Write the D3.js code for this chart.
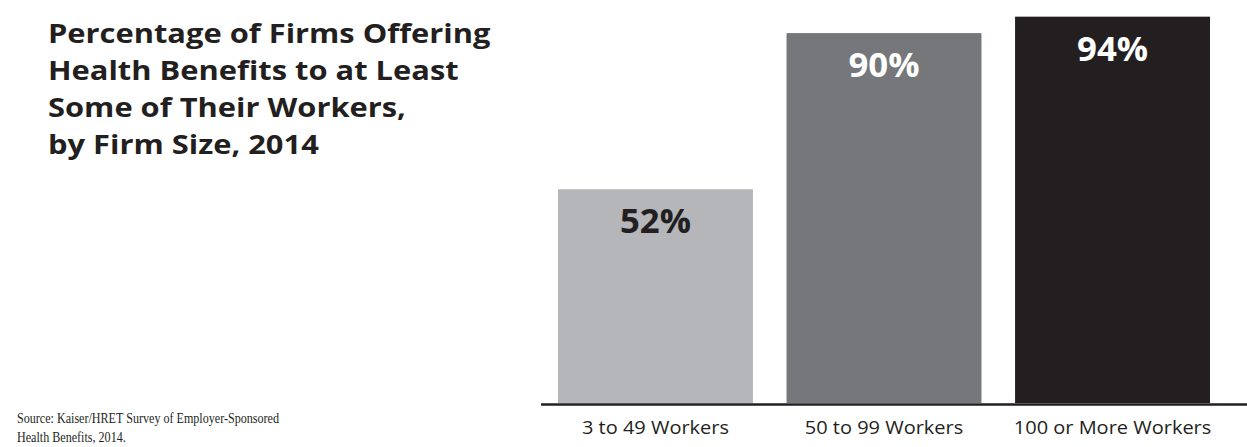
<!DOCTYPE html>
<html>
<head>
<meta charset="utf-8">
<script src="https://cdn.jsdelivr.net/npm/d3@7"></script>
<style>
  html, body { margin: 0; padding: 0; background: #fff; }
  svg { display: block; }
</style>
</head>
<body>
<svg id="chart" width="1247" height="447"></svg>
<script>
const categories = ["3 to 49 Workers", "50 to 99 Workers", "100 or More Workers"];
const values = [52, 90, 94];
const valueLabels = ["52%", "90%", "94%"];
const barColors = ["#b5b6b9", "#76777a", "#231f20"];
const labelColors = ["#231f20", "#ffffff", "#ffffff"];
const titleLines = ["Percentage of Firms Offering", "Health Benefits to at Least", "Some of Their Workers,", "by Firm Size, 2014"];
const sourceLines = ["Source: Kaiser/HRET Survey of Employer-Sponsored", "Health Benefits, 2014."];

const svg = d3.select("#chart");
const sans = "'Open Sans', 'Noto Sans', sans-serif";
const ink = "#231f20";

// apply a horizontal squeeze so the first text's rendered width reaches the target
function fitRendered(sel, target, tf) {
  let s = 1;
  for (let k = 0; k < 3; k++) {
    sel.attr("transform", (d, i) => tf(d, i) + ` scale(${s},1)`);
    const w = sel.nodes()[0].getBoundingClientRect().width;
    s = s * target / w;
  }
  sel.attr("transform", (d, i) => tf(d, i) + ` scale(${s},1)`);
}

const x = d3.scaleBand().domain(categories).range([558, 1210]).paddingInner(0.147).paddingOuter(0);
const y = d3.scaleLinear().domain([0, 100]).range([403, -8]);

// bars
svg.append("g").selectAll("rect").data(values).join("rect")
  .attr("x", (d, i) => x(categories[i]))
  .attr("y", d => y(d))
  .attr("width", x.bandwidth())
  .attr("height", d => y(0) - y(d))
  .attr("fill", (d, i) => barColors[i]);

// axis baseline
const axis = svg.append("g").attr("transform", `translate(0,${y(0) + 1.5})`)
  .call(d3.axisBottom(x).tickSize(0).tickPadding(15));
axis.select(".domain").attr("d", "M541,0H1247").attr("stroke", ink).attr("stroke-width", 2.5);
const tickTexts = axis.selectAll(".tick text")
  .attr("font-family", sans).attr("font-size", 19).attr("fill", ink)
  .attr("dy", "0").attr("y", 0);
fitRendered(tickTexts, 147, () => "translate(0,29)");

// value labels
const vl = svg.append("g").selectAll("text").data(values).join("text")
  .attr("x", 0).attr("y", 0)
  .attr("text-anchor", "middle")
  .attr("font-family", sans).attr("font-weight", 700).attr("font-size", 34)
  .attr("fill", (d, i) => labelColors[i])
  .text((d, i) => valueLabels[i]);
fitRendered(vl, 71, (d, i) => `translate(${x(categories[i]) + x.bandwidth() / 2},${y(d) + 44})`);

// title
const title = svg.append("g").selectAll("text").data(titleLines).join("text")
  .attr("x", 0).attr("y", 0)
  .attr("font-family", sans).attr("font-weight", 700).attr("font-size", 27.5)
  .attr("fill", ink).text(d => d);
fitRendered(title, 443, (d, i) => `translate(48,${43 + i * 37})`);

// source
const src = svg.append("g").selectAll("text").data(sourceLines).join("text")
  .attr("x", 0).attr("y", 0)
  .attr("font-family", "'Liberation Serif', 'DejaVu Serif', serif").attr("font-size", 15.5)
  .attr("fill", ink).text(d => d);
fitRendered(src, 262, (d, i) => `translate(17,${423 + i * 18.5})`);
</script>
</body>
</html>
